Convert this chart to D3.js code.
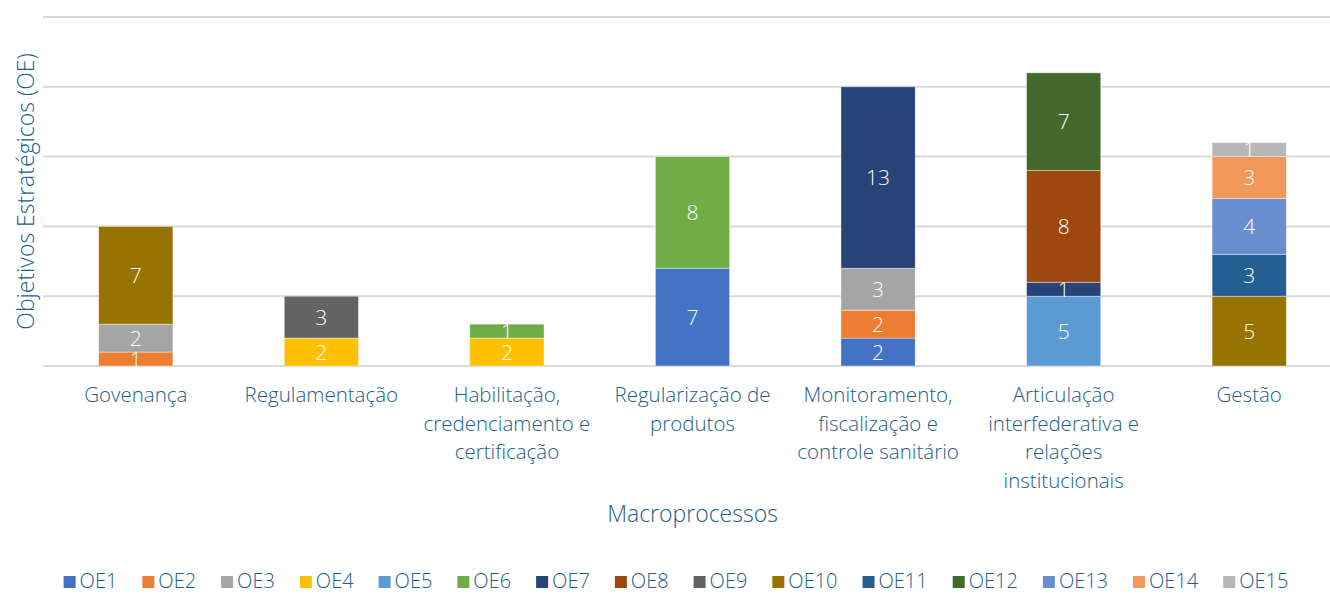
<!DOCTYPE html>
<html lang="pt">
<head>
    <meta charset="UTF-8">
    <title>Objetivos Estratégicos por Macroprocesso</title>
    <style>
        body { margin: 0; background: #fff; }
        svg text { font-family: "Open Sans", Lato, sans-serif; font-weight: 300; }
    </style>
    <script src="https://cdn.jsdelivr.net/npm/d3@7"></script>
</head>
<body>
    <div id="chart"></div>
    <script>
        // categories (x axis), each split in lines as in the original
        const categories = ["Govenança", "Regulamentação", "Habilitação", "Regularização", "Monitoramento", "Articulação", "Gestão"]
        const categoryLines = [
            ["Govenança"],
            ["Regulamentação"],
            ["Habilitação,", "credenciamento e", "certificação"],
            ["Regularização de", "produtos"],
            ["Monitoramento,", "fiscalização e", "controle sanitário"],
            ["Articulação", "interfederativa e", "relações", "institucionais"],
            ["Gestão"]
        ]

        // series: number of OE per macroprocess
        const seriesNames = ["OE1","OE2","OE3","OE4","OE5","OE6","OE7","OE8","OE9","OE10","OE11","OE12","OE13","OE14","OE15"]
        const OE1  = [0, 0, 0, 7, 2, 0, 0]
        const OE2  = [1, 0, 0, 0, 2, 0, 0]
        const OE3  = [2, 0, 0, 0, 3, 0, 0]
        const OE4  = [0, 2, 2, 0, 0, 0, 0]
        const OE5  = [0, 0, 0, 0, 0, 5, 0]
        const OE6  = [0, 0, 1, 8, 0, 0, 0]
        const OE7  = [0, 0, 0, 0, 13, 1, 0]
        const OE8  = [0, 0, 0, 0, 0, 8, 0]
        const OE9  = [0, 3, 0, 0, 0, 0, 0]
        const OE10 = [7, 0, 0, 0, 0, 0, 5]
        const OE11 = [0, 0, 0, 0, 0, 0, 3]
        const OE12 = [0, 0, 0, 0, 0, 7, 0]
        const OE13 = [0, 0, 0, 0, 0, 0, 4]
        const OE14 = [0, 0, 0, 0, 0, 0, 3]
        const OE15 = [0, 0, 0, 0, 0, 0, 1]
        const seriesValues = [OE1, OE2, OE3, OE4, OE5, OE6, OE7, OE8, OE9, OE10, OE11, OE12, OE13, OE14, OE15]

        const colors = ["#4472C4","#ED7D31","#A5A5A5","#FFC000","#5B9BD5","#70AD47","#264478","#9E480E",
                        "#636363","#997300","#255E91","#43682B","#698ED0","#F1975A","#B7B7B7"]
        const yTicks = [0, 5, 10, 15, 20, 25]

        const textColor = "#215E8A"
        const W = 1330, H = 594
        const plot = {left: 43, right: 1342, top: 17, bottom: 366}

        const svg = d3.select("#chart").append("svg")
            .attr("width", W).attr("height", H)

        // build table for the stack
        const table = categories.map((c, i) => {
            const row = {cat: c}
            seriesNames.forEach((s, j) => row[s] = seriesValues[j][i])
            return row
        })
        const stacked = d3.stack().keys(seriesNames)(table)

        const x = d3.scaleBand()
            .domain(categories)
            .range([plot.left, plot.right])
            .paddingInner(0.6)
            .paddingOuter(0.3)

        const y = d3.scaleLinear()
            .domain([0, 25])
            .range([plot.bottom, plot.top])

        // gridlines
        svg.append("g")
            .selectAll("line")
            .data(yTicks)
            .join("line")
            .attr("x1", plot.left).attr("x2", plot.right)
            .attr("y1", d => y(d)).attr("y2", d => y(d))
            .attr("stroke", "#d9d9d9")
            .attr("stroke-width", 2)

        // bars
        const layers = svg.append("g")
            .selectAll("g")
            .data(stacked)
            .join("g")
            .attr("fill", (d, i) => colors[i])

        const segs = d => d.map(p => ({p: p, cat: p.data.cat})).filter(e => e.p[1] - e.p[0] > 0)

        layers.selectAll("rect")
            .data(segs)
            .join("rect")
            .attr("x", d => x(d.cat))
            .attr("width", x.bandwidth())
            .attr("y", d => y(d.p[1]))
            .attr("height", d => y(d.p[0]) - y(d.p[1]))
            .attr("stroke", "#ffffff")
            .attr("stroke-opacity", 0.5)
            .attr("stroke-width", 0.8)

        // value labels
        layers.selectAll("text")
            .data(segs)
            .join("text")
            .attr("x", d => x(d.cat) + x.bandwidth() / 2)
            .attr("y", d => y((d.p[0] + d.p[1]) / 2))
            .attr("dy", "0.36em")
            .attr("text-anchor", "middle")
            .attr("fill", "#ffffff")
            .style("font-size", "21px")
            .text(d => d.p[1] - d.p[0])

        // category labels
        const cats = svg.append("g")
            .selectAll("text")
            .data(categories)
            .join("text")
            .attr("x", d => x(d) + x.bandwidth() / 2)
            .attr("y", 402)
            .attr("text-anchor", "middle")
            .attr("fill", textColor)
            .style("font-size", "20.5px")
        cats.selectAll("tspan")
            .data((d, i) => categoryLines[i])
            .join("tspan")
            .attr("x", function() { return this.parentNode.getAttribute("x") })
            .attr("dy", (d, i) => i === 0 ? 0 : 28.5)
            .text(d => d)

        // axis titles
        svg.append("text")
            .attr("x", (plot.left + plot.right) / 2)
            .attr("y", 522)
            .attr("text-anchor", "middle")
            .attr("fill", textColor)
            .style("font-size", "23px")
            .text("Macroprocessos")

        svg.append("text")
            .attr("transform", `translate(34, ${(plot.top + plot.bottom) / 2}) rotate(-90)`)
            .attr("text-anchor", "middle")
            .attr("fill", textColor)
            .style("font-size", "23px")
            .text("Objetivos Estratégicos (OE)")

        // legend
        const legend = svg.append("g")
        const gap = 25
        let lx = 0
        seriesNames.forEach((s, i) => {
            const g = legend.append("g").attr("transform", `translate(${lx},0)`)
            g.append("rect").attr("width", 12).attr("height", 12).attr("y", -11).attr("fill", colors[i])
            const t = g.append("text").attr("x", 16).attr("y", 1).attr("fill", textColor)
                .style("font-size", "20px").text(s)
            lx += 16 + t.node().getComputedTextLength() + gap
        })
        const legendWidth = lx - gap
        legend.attr("transform", `translate(${676 - legendWidth / 2}, 587)`)
    </script>
</body>
</html>
